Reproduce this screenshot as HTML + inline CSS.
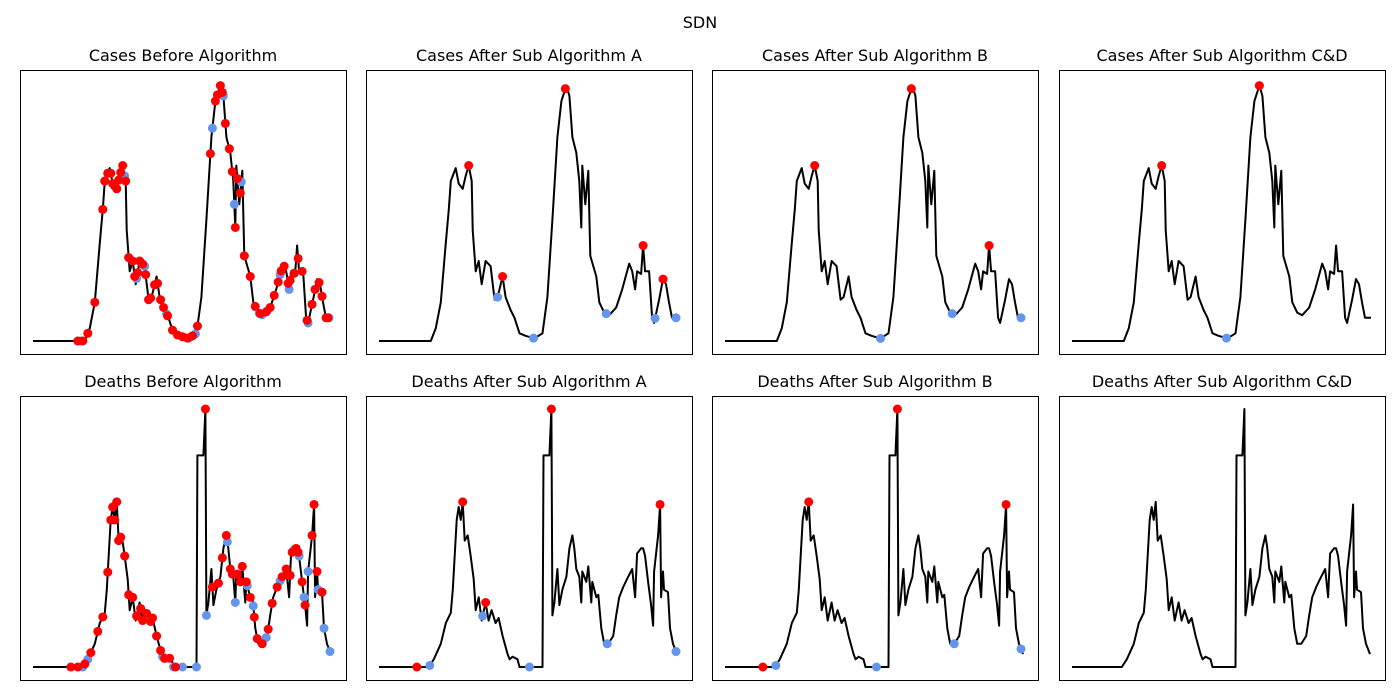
<!DOCTYPE html>
<html><head><meta charset="utf-8"><style>
body{margin:0;background:#fff;font-family:"DejaVu Sans","Liberation Sans",sans-serif}
svg{display:block}
</style></head><body>
<svg id="fig" width="1400" height="700">
<text x="700" y="28" text-anchor="middle" font-size="16">SDN</text>
</svg>
<script>
const casesDays=[0,52,57,62,67,70,72,77,80,84,87,90,93,94,97,100,103,107,112,116,119,124,127,132,136,141,147,156,164,169,174,179,183,188,191,194,198,201,203,204,207,210,212,218,221,226,231,238,244,251,254,257,259,263,265,267,271,274,276,281,285,288,291,294,300];
const casesVals=[0,0,5,15,38,51,62,67,61,59,64,68,62,43,27,31,22,31,29,16,17,25,17,12,9,3,2,1,3,17,47,79,93,99,95,79,73,62,44,68,53,66,33,25,15,11,10,13,20,30,27,20,27,26,37,27,27,9,7,16,24,22,15,9,9];
const deathsDays=[0,50,55,62,67,72,74,78,80,82,84,86,89,92,95,97,100,103,107,110,113,117,120,124,129,131,134,139,141,154,164,165,171,173,174,176,179,181,184,188,191,194,196,198,201,203,204,208,210,213,214,218,220,223,226,230,235,238,241,245,250,254,257,259,263,265,267,270,273,275,276,280,282,283,285,286,290,292,295,299];
const deathsVals=[0,0,3,9,17,21,30,57,62,57,64,49,51,43,34,22,27,18,25,18,22,17,19,12,5,3,4,3,0,0,0,82,82,100,20,25,38,24,30,35,46,51,46,38,35,25,37,33,39,25,33,27,28,15,9,9,12,20,27,31,35,38,27,44,46,46,43,33,24,16,37,51,63,27,37,30,29,15,9,5];
const panelTitles=["Cases Before Algorithm","Cases After Sub Algorithm A","Cases After Sub Algorithm B","Cases After Sub Algorithm C&D","Deaths Before Algorithm","Deaths After Sub Algorithm A","Deaths After Sub Algorithm B","Deaths After Sub Algorithm C&D"];
const peaks=[
[45,50,55,62,70,72,75,78,80,82,84,86,88,90,93,96,100,102,105,107,110,113,116,118,122,125,128,131,135,140,145,150,155,160,165,178,183,185,188,190,193,197,200,203,205,208,212,218,223,228,234,238,242,246,249,252,256,258,262,266,270,275,280,283,287,290,294,296],
[90,124,187,265,285],[90,187,265],[90,188],
[38,45,52,58,65,70,75,78,80,82,84,86,88,92,96,100,104,108,110,114,118,120,124,128,132,137,143,173,180,186,190,194,198,200,205,208,210,214,218,222,225,230,236,240,245,250,254,258,260,264,266,270,273,280,282,285,290],
[38,84,107,173,282],[38,84,173,282],[]];
const troughs=[
[45,48,70,72,75,80,84,86,92,96,100,104,108,112,116,122,134,140,150,157,163,180,191,197,202,209,212,218,227,230,235,248,257,262,276,280,283,290,297],
[119,155,228,277,298],[156,228,297],[155],
[50,55,80,84,86,92,100,104,108,115,118,124,130,141,150,164,174,186,195,203,210,215,221,225,234,240,248,258,262,267,272,276,280,286,292,298],
[51,104,151,229,298],[51,152,230,297],[]];
const NS="http://www.w3.org/2000/svg";
const svg=document.getElementById('fig');
const colX=[20,366,712,1059], rowY=[70,396];
function interp(ds,vs,d){for(let i=1;i<ds.length;i++){if(d<=ds[i]){const t=(d-ds[i-1])/((ds[i]-ds[i-1])||1);return vs[i-1]+t*(vs[i]-vs[i-1]);}}return vs[vs.length-1];}
function mk(tag,attrs){const e=document.createElementNS(NS,tag);for(const k in attrs)e.setAttribute(k,attrs[k]);svg.appendChild(e);return e;}
for(let p=0;p<8;p++){
  const r=Math.floor(p/4),c=p%4,x0=colX[c],y0=rowY[r];
  const ds=r?deathsDays:casesDays, vs=r?deathsVals:casesVals;
  const xs=d=>x0+13+d*299/300, ys=v=>y0+271-v/100*258;
  const fr=mk('rect',{x:x0+0.5,y:y0+0.5,width:326,height:284,fill:'none',stroke:'#000','stroke-width':1});
  
  
  const t=mk('text',{x:x0+163,y:y0-9,'text-anchor':'middle','font-size':16});
  t.textContent=panelTitles[p];
  
  
  let dstr='';ds.forEach((d,i)=>{dstr+=(i?'L':'M')+xs(d).toFixed(1)+' '+ys(vs[i]).toFixed(1);});
  const ln=mk('path',{d:dstr,fill:'none',stroke:'#000','stroke-width':2,'stroke-linejoin':'round'});
  
  
  troughs[p].forEach(d=>{const m=mk('circle',{cx:xs(d),cy:ys(interp(ds,vs,d)),r:4.5,fill:'#6495ED'});
    
    });
  peaks[p].forEach(d=>{const m=mk('circle',{cx:xs(d),cy:ys(interp(ds,vs,d)),r:4.5,fill:'#FF0000'});
    
    });
}
</script>
</body></html>
